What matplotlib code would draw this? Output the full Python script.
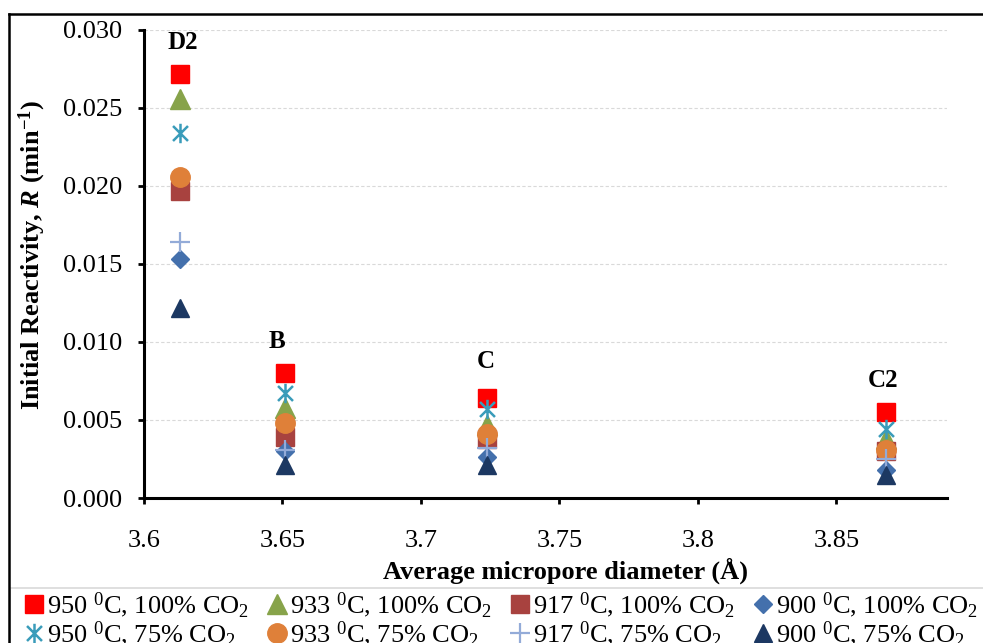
import matplotlib
matplotlib.use('Agg')
import matplotlib.pyplot as plt
from matplotlib.lines import Line2D
from matplotlib.patches import Rectangle
from matplotlib.path import Path

plt.rcParams['font.family'] = ['Liberation Serif', 'DejaVu Serif']
plt.rcParams['mathtext.fontset'] = 'custom'
plt.rcParams['mathtext.rm'] = 'Liberation Serif'
plt.rcParams['mathtext.it'] = 'Liberation Serif:italic:bold'
plt.rcParams['mathtext.bf'] = 'Liberation Serif:bold'

# average micropore diameter of each char sample
diameter = [3.613, 3.651, 3.724, 3.868]
samples = ['D2', 'B', 'C', 'C2']
sample_label_x = [3.614, 3.648, 3.7235, 3.867]
sample_label_y = [0.0292, 0.0100, 0.00875, 0.0075]

# initial reactivity (min^-1)
r950_100 = [0.0272, 0.0080, 0.0064, 0.0055]
r933_100 = [0.0256, 0.0058, 0.0047, 0.0038]
r917_100 = [0.0197, 0.0039, 0.0038, 0.0030]
r900_100 = [0.0153, 0.0030, 0.0026, 0.0018]
r950_75 = [0.0234, 0.0067, 0.0057, 0.0044]
r933_75 = [0.0206, 0.0048, 0.0041, 0.0031]
r917_75 = [0.0164, 0.0031, 0.0032, 0.0025]
r900_75 = [0.0122, 0.0021, 0.0021, 0.0015]

names = ['950 $^{0}$C, 100% CO$_{2}$', '933 $^{0}$C, 100% CO$_{2}$',
         '917 $^{0}$C, 100% CO$_{2}$', '900 $^{0}$C, 100% CO$_{2}$',
         '950 $^{0}$C, 75% CO$_{2}$', '933 $^{0}$C, 75% CO$_{2}$',
         '917 $^{0}$C, 75% CO$_{2}$', '900 $^{0}$C, 75% CO$_{2}$']

# excel style asterisk: an X with a vertical bar
asterisk = Path([(-1, -1), (1, 1), (-1, 1), (1, -1), (0, -1.3), (0, 1.3)],
                [Path.MOVETO, Path.LINETO, Path.MOVETO, Path.LINETO,
                 Path.MOVETO, Path.LINETO])

styles = [
    dict(marker='s', color='#FF0000', ms=13),
    dict(marker='^', color='#87A34A', ms=14),
    dict(marker='s', color='#A8423F', ms=13),
    dict(marker='D', color='#4470AC', ms=9),
    dict(marker=asterisk, color='#3A9CBA', ms=14, mew=1.8, fillstyle='none'),
    dict(marker='o', color='#DF8039', ms=14),
    dict(marker='+', color='#93ABD8', ms=15, mew=1.6),
    dict(marker='^', color='#1C3862', ms=13),
]

series = [r950_100, r933_100, r917_100, r900_100,
          r950_75, r933_75, r917_75, r900_75]

fig = plt.figure(figsize=(9.83, 6.43), dpi=100)
ax = fig.add_axes([0.1465, 0.2255, 0.8169, 0.7280])

handles = []
for vals, st, name in zip(series, styles, names):
    h, = ax.plot(diameter, vals, linestyle='none', label=name,
                 markeredgecolor=st['color'], **st)
    handles.append(h)

for sx, sy, s in zip(sample_label_x, sample_label_y, samples):
    ax.text(sx, sy, s, ha='center', va='center', fontsize=18,
            fontweight='bold')

ax.set_xlim(3.6, 3.89)
ax.set_ylim(0, 0.030)
ax.set_xticks([3.6, 3.65, 3.7, 3.75, 3.8, 3.85])
ax.set_xticklabels(['3.6', '3.65', '3.7', '3.75', '3.8', '3.85'])
ax.set_yticks([0.000, 0.005, 0.010, 0.015, 0.020, 0.025, 0.030])
ax.set_yticklabels(['0.000', '0.005', '0.010', '0.015', '0.020', '0.025', '0.030'])
ax.tick_params(labelsize=19, length=4, width=2, direction='out')
ax.tick_params(axis='x', pad=19)
ax.tick_params(axis='y', pad=12)
ax.grid(axis='y', color='#D9D9D9', linestyle=(0, (3, 2)), linewidth=0.8)
ax.set_axisbelow(True)
for side in ['top', 'right']:
    ax.spines[side].set_visible(False)
for side in ['left', 'bottom']:
    ax.spines[side].set_linewidth(2.2)

ax.set_xlabel('Average micropore diameter (Å)', fontsize=19,
              fontweight='bold')
ax.set_ylabel(r'Initial Reactivity, $\mathit{R}$ (min$^{\mathbf{-1}}$)',
              fontsize=19, fontweight='bold')
ax.xaxis.set_label_coords(0.5255, -0.128)
ax.yaxis.set_label_coords(-0.120, 0.519)

# legend rows: 100% CO2 on top, 75% CO2 below (matplotlib fills by column)
order = [0, 4, 1, 5, 2, 6, 3, 7]
leg = fig.legend(handles=[handles[i] for i in order], ncol=4,
                 loc='upper left',
                 bbox_to_anchor=(25 / 983, 1 - 590 / 643),
                 fontsize=19, frameon=False,
                 handlelength=0.7, handletextpad=0.15, labelspacing=0.0,
                 borderpad=0.0, columnspacing=0.7, borderaxespad=0)

# legend box and outer chart border
fig.add_artist(Rectangle((10 / 983, -0.05), 1.0, 0.05 + 1 - 588 / 643,
                         transform=fig.transFigure, facecolor='none',
                         edgecolor='#D9D9D9', lw=1.2))
fig.add_artist(Line2D([9 / 983, 9 / 983], [0, 1 - 14 / 643],
                      transform=fig.transFigure, color='black', lw=1.8))
fig.add_artist(Line2D([9 / 983, 1], [1 - 14 / 643, 1 - 14 / 643],
                      transform=fig.transFigure, color='black', lw=1.8))

fig.savefig('out.png', dpi=100)
